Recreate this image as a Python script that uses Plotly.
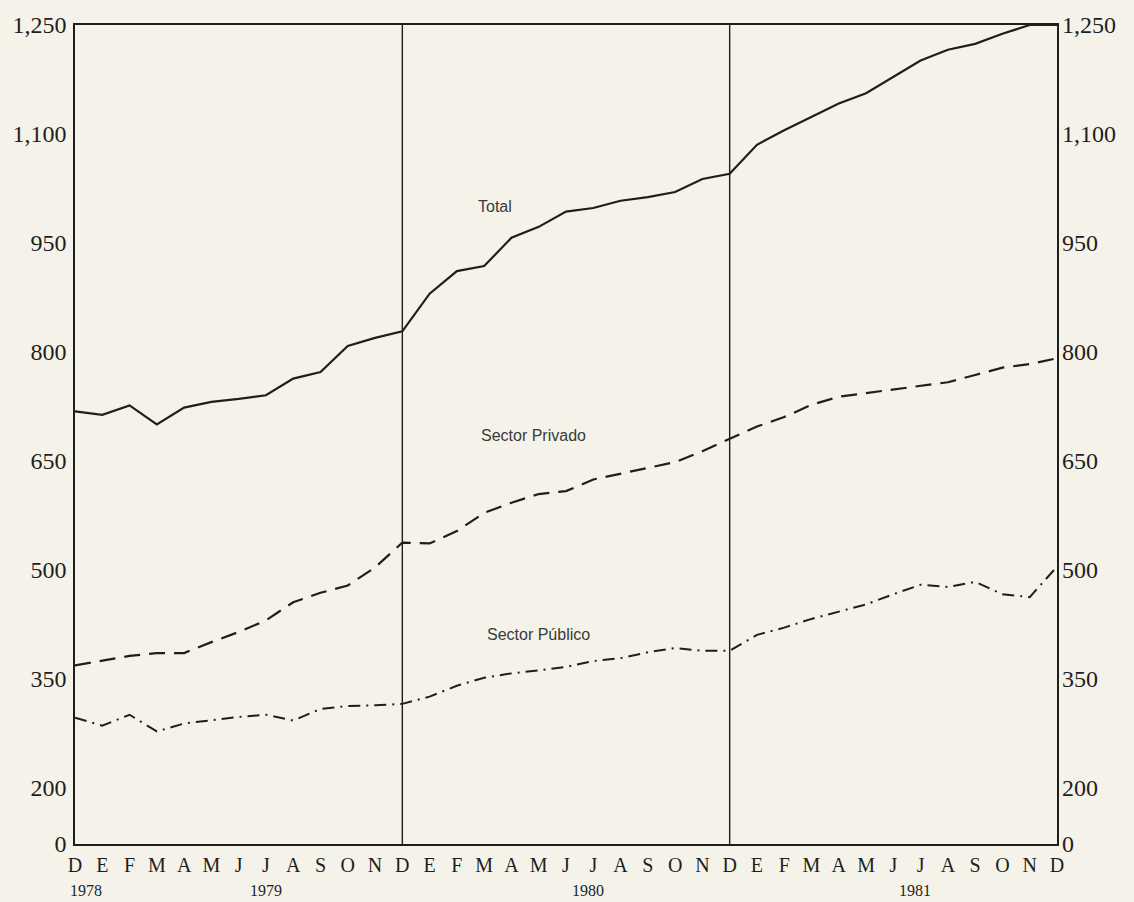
import plotly.graph_objects as go

# Month index 0 = December 1978 ... 36 = December 1981
month_labels = ["D", "E", "F", "M", "A", "M", "J", "J", "A", "S", "O", "N"] * 3 + ["D"]
months = list(range(len(month_labels)))

total = [718, 713, 726, 700, 723, 731, 735, 740, 763, 772, 808, 819, 828,
         880, 911, 918, 957, 972, 993, 998, 1008, 1013, 1020, 1038, 1045,
         1085, 1105, 1124, 1142, 1156, 1178, 1201, 1216, 1224, 1238, 1250, 1250]

privado = [368, 375, 381, 385, 385, 400, 414, 430, 455, 468, 478, 503, 537,
           536, 553, 578, 592, 604, 608, 624, 632, 641, 648, 663, 680,
           697, 710, 727, 738, 743, 748, 752, 758, 768, 778, 783, 791]

publico = [296, 285, 300, 277, 288, 293, 297, 300, 292, 308, 312, 313, 315,
           325, 340, 351, 357, 361, 366, 374, 378, 386, 392, 388, 388,
           410, 420, 432, 442, 452, 466, 479, 476, 483, 466, 462, 504]

y_tick_vals = [122, 200, 350, 500, 650, 800, 950, 1100, 1250]
y_tick_text = ["0", "200", "350", "500", "650", "800", "950", "1,100", "1,250"]

years = ["1978", "1979", "1980", "1981"]
year_pos = [0.4, 7.0, 18.8, 30.8]

series_labels = ["Total", "Sector Privado", "Sector Público"]
label_pos = [(15.4, 1000), (16.8, 685), (17.0, 410)]

INK = "#1e1e1e"
PAPER = "#f5f3e9"

fig = go.Figure()
fig.add_trace(go.Scatter(x=months, y=total, mode="lines", name="Total",
                         line=dict(color=INK, width=2.2), showlegend=False))
fig.add_trace(go.Scatter(x=months, y=privado, mode="lines", name="Sector Privado",
                         line=dict(color=INK, width=2.2, dash="16px,9px"), showlegend=False))
fig.add_trace(go.Scatter(x=months, y=publico, mode="lines", name="Sector Público",
                         line=dict(color=INK, width=2.0, dash="12px,6px,2px,6px"), showlegend=False))
# invisible trace to activate the mirrored right axis
fig.add_trace(go.Scatter(x=months[:1], y=total[:1], mode="lines", yaxis="y2",
                         opacity=0, showlegend=False, hoverinfo="skip"))

# year dividers at interior Decembers
for i, lab in enumerate(month_labels):
    if lab == "D" and 0 < i < len(month_labels) - 1:
        fig.add_shape(type="line", xref="x", yref="paper", x0=i, x1=i, y0=0, y1=1,
                      line=dict(color=INK, width=1.4))

tick_font = dict(family="Liberation Serif, Times New Roman, serif", size=24, color=INK)
month_font = dict(family="Liberation Serif, Times New Roman, serif", size=20, color=INK)
year_font = dict(family="Liberation Serif, Times New Roman, serif", size=16, color=INK)

for txt, (xv, yv) in zip(series_labels, label_pos):
    fig.add_annotation(x=xv, y=yv, xref="x", yref="y", text=txt, showarrow=False,
                       font=dict(family="Liberation Sans, Arial, sans-serif", size=16, color="#3a3a3a"))

for yr, xp in zip(years, year_pos):
    fig.add_annotation(x=xp, y=-0.0685, xref="x", yref="paper", text=yr, showarrow=False,
                       yanchor="bottom", borderpad=0, font=year_font)

fig.update_layout(
    width=1134, height=902,
    margin=dict(l=68, r=77, t=24, b=58),
    paper_bgcolor=PAPER, plot_bgcolor=PAPER,
    xaxis=dict(range=[0, 36], tickvals=months, ticktext=month_labels, tickfont=month_font,
               showgrid=False, zeroline=False, showline=True, mirror=True,
               linecolor=INK, linewidth=1.6, ticks="", ticklabelstandoff=2),
    yaxis=dict(range=[122, 1250], tickvals=y_tick_vals, ticktext=y_tick_text, tickfont=tick_font,
               showgrid=False, zeroline=False, showline=True, mirror=True,
               linecolor=INK, linewidth=1.6, ticks="", ticklabelstandoff=2),
    yaxis2=dict(range=[122, 1250], tickvals=y_tick_vals, ticktext=y_tick_text, tickfont=tick_font,
                overlaying="y", side="right", showgrid=False, zeroline=False, showline=False,
                ticks="", ticklabelstandoff=4),
)

fig.write_html(
    "out.html",
    config={"displayModeBar": False},
    post_script="document.body.style.margin='0';document.body.style.background='" + PAPER + "';",
)
